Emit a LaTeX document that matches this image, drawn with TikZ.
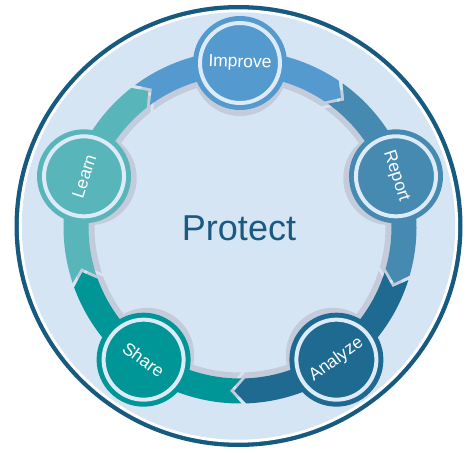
\documentclass[tikz,border=0pt]{standalone}
\usepackage{fontspec}
\setmainfont{Liberation Sans}
\definecolor{outerdark}{RGB}{22,90,128}
\definecolor{bglight}{RGB}{214,229,244}
\definecolor{ringlight}{RGB}{221,234,247}
\definecolor{shadowgrey}{RGB}{196,203,219}
\definecolor{cImprove}{RGB}{84,154,206}
\definecolor{cReport}{RGB}{70,138,178}
\definecolor{cAnalyze}{RGB}{31,106,145}
\definecolor{cShare}{RGB}{0,150,152}
\definecolor{cLearn}{RGB}{88,182,187}
\definecolor{protecttext}{RGB}{27,90,128}
\newcommand\bandseg[5]{%
  \fill[#2] ({#1+36.5}:#5) arc[start angle={#1+36.5}, end angle={#1-34}, radius=#5]
    -- ({#1-38}:#4) -- ({#1-34}:#3)
    arc[start angle={#1-34}, end angle={#1+36.5}, radius=#3]
    -- ({#1+32.5}:#4) -- cycle;}
\tikzset{
  stage/.style={circle, fill=#1, draw=ringlight, line width=4pt, minimum size=80pt,
    inner sep=0pt, text=white, font=\fontsize{17.5}{19}\selectfont},
  rim/.style={fill=#1},
}
\begin{document}
\begin{tikzpicture}[x=1pt,y=1pt]
\useasboundingbox (0,0) rectangle (467,-453);
% outer frame
\fill[outerdark] (238.5,-226) ellipse[x radius=224, y radius=221];
\fill[white] (238.5,-226) ellipse[x radius=219.7, y radius=216.7];
\fill[bglight] (238.5,-226) ellipse[x radius=216.7, y radius=213.7];
\coordinate (c) at (240,-227);
\begin{scope}[shift={(c)}]
  % shadows
  \foreach \a in {90,18,-54,-126,-198} {
    \bandseg{\a}{shadowgrey}{145.5}{158}{170.5}
  }
  \foreach \a in {90,18,-54,-126,-198} {
    \fill[shadowgrey] (\a:158) circle[radius=47];
  }
  % coloured band segments
  \bandseg{90}{cImprove}{151.5}{164}{176.5}
  \bandseg{18}{cReport}{151.5}{164}{176.5}
  \bandseg{-54}{cAnalyze}{151.5}{164}{176.5}
  \bandseg{-126}{cShare}{151.5}{164}{176.5}
  \bandseg{-198}{cLearn}{151.5}{164}{176.5}
  % rims
  \fill[rim=cImprove] (90:164) circle[radius=47];
  \fill[rim=cReport] (18:164) circle[radius=47];
  \fill[rim=cAnalyze] (-54:164) circle[radius=47];
  \fill[rim=cShare] (-126:164) circle[radius=47];
  \fill[rim=cLearn] (162:164) circle[radius=47];
  % stage nodes
  \node[stage=cImprove, rotate=-2] (improve) at (90:164) {Improve};
  \node[stage=cReport, rotate=-72] (report) at (18:164) {Report};
  \node[stage=cAnalyze, rotate=36] (analyze) at (-54:164) {Analyze};
  \node[stage=cShare, rotate=-36] (share) at (-126:164) {Share};
  \node[stage=cLearn, rotate=72] (learn) at (162:164) {Learn};
\end{scope}
\node[text=protecttext, font=\fontsize{36}{40}\selectfont] (protect) at (239,-228) {Protect};
\end{tikzpicture}
\end{document}
